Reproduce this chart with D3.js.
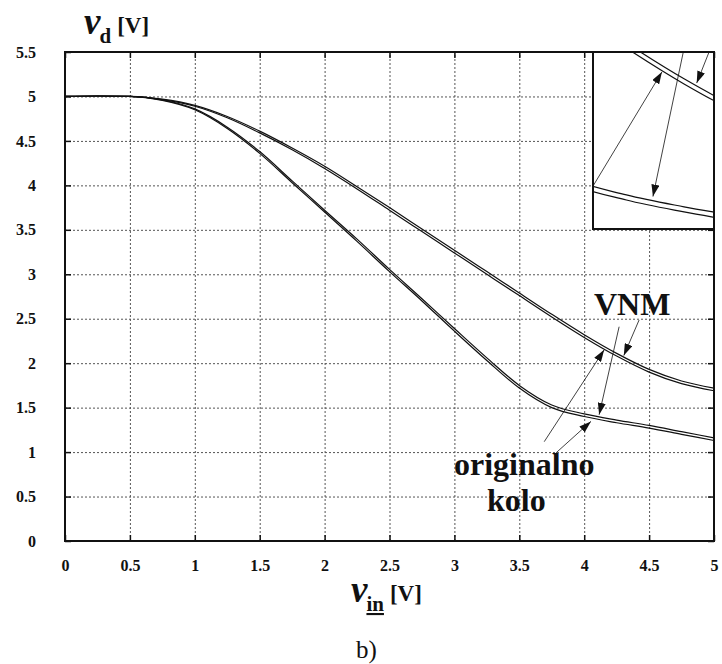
<!DOCTYPE html>
<html>
<head>
<meta charset="utf-8">
<script src="https://cdn.jsdelivr.net/npm/d3@7"></script>
<style>
  body { margin: 0; background: #fff; }
  svg { display: block; }
</style>
</head>
<body>
<svg id="chart" width="722" height="664"></svg>
<script>
const SERIF = '"Liberation Serif", "Times New Roman", serif';

// input voltage samples [V]
const vin = [0, 0.25, 0.5, 0.75, 1.0, 1.25, 1.5, 1.75, 2.0, 2.25, 2.5, 2.75, 3.0, 3.25, 3.5, 3.75, 4.0, 4.25, 4.5, 4.75, 5.0];

// output voltage, upper pair of curves
const origUpper = [5.0, 5.005, 5.0, 4.965, 4.89, 4.76, 4.59, 4.40, 4.19, 3.96, 3.72, 3.48, 3.24, 3.00, 2.76, 2.52, 2.29, 2.08, 1.90, 1.77, 1.69];
const vnmUpper  = [5.0, 5.005, 5.0, 4.97, 4.90, 4.775, 4.61, 4.42, 4.215, 3.985, 3.75, 3.51, 3.27, 3.03, 2.79, 2.55, 2.32, 2.11, 1.93, 1.80, 1.72];

// output voltage, lower pair of curves
const origLower = [5.0, 5.005, 5.0, 4.955, 4.85, 4.64, 4.36, 4.03, 3.70, 3.37, 3.03, 2.70, 2.36, 2.03, 1.72, 1.50, 1.40, 1.33, 1.27, 1.20, 1.13];
const vnmLower  = [5.0, 5.005, 5.0, 4.96, 4.86, 4.655, 4.38, 4.05, 3.72, 3.395, 3.055, 2.725, 2.39, 2.06, 1.75, 1.53, 1.43, 1.36, 1.30, 1.23, 1.16];

const xTicks = [0, 0.5, 1, 1.5, 2, 2.5, 3, 3.5, 4, 4.5, 5];
const yTicks = [0, 0.5, 1, 1.5, 2, 2.5, 3, 3.5, 4, 4.5, 5, 5.5];

// annotation arrows in data units: [x1, y1, x2, y2]
const arrows = [
  [3.692, 1.117, 4.154, 2.15],   // originalno -> upper
  [3.782, 0.99, 4.052, 1.345],   // originalno -> lower
  [4.269, 2.41, 4.115, 1.42],    // VNM -> lower
  [4.423, 2.486, 4.305, 2.085]   // VNM -> upper
];
const insetArrows = [0, 2, 3];

// magnified window shown in the top-right inset
const insetX = [3.855, 4.38];
const insetY = [1.23, 2.267];

const svg = d3.select('#chart');
const x = d3.scaleLinear().domain([0, 5]).range([65, 714]);
const y = d3.scaleLinear().domain([0, 5.5]).range([541, 52]);

const series = [origUpper, vnmUpper, origLower, vnmLower];

svg.append('defs').append('marker')
  .attr('id', 'head')
  .attr('markerUnits', 'userSpaceOnUse')
  .attr('markerWidth', 12).attr('markerHeight', 8)
  .attr('refX', 12).attr('refY', 4)
  .attr('orient', 'auto')
  .append('path').attr('d', 'M0,0 L12,4 L0,8 Z').attr('fill', '#111');

// grid
const gridStyle = g => {
  g.select('.domain').remove();
  g.selectAll('.tick line').attr('stroke', '#555').attr('stroke-dasharray', '2,2').attr('stroke-width', 1);
};
svg.append('g').attr('transform', 'translate(0,541)')
  .call(d3.axisBottom(x).tickValues(xTicks.slice(1, -1)).tickSize(-489).tickFormat(''))
  .call(gridStyle);
svg.append('g').attr('transform', 'translate(65,0)')
  .call(d3.axisLeft(y).tickValues(yTicks.slice(1, -1)).tickSize(-649).tickFormat(''))
  .call(gridStyle);

// axes with inward ticks
const tickStyle = g => {
  g.select('.domain').remove();
  g.attr('font-family', SERIF);
  g.selectAll('.tick line').attr('stroke', '#111').attr('stroke-width', 1.5);
  g.selectAll('text').attr('font-family', SERIF).attr('font-size', 16)
    .attr('font-weight', 'bold').attr('fill', '#111');
};
svg.append('g').attr('transform', 'translate(65,0)')
  .call(d3.axisLeft(y).tickValues(yTicks).tickSize(-6).tickPadding(29).tickFormat(d => d))
  .call(tickStyle);
svg.append('g').attr('transform', 'translate(0,541)')
  .call(d3.axisBottom(x).tickValues(xTicks).tickSize(-6).tickPadding(19).tickFormat(d => d))
  .call(tickStyle);
svg.append('g').attr('transform', 'translate(714,0)')
  .call(d3.axisRight(y).tickValues(yTicks).tickSize(-6).tickFormat(''))
  .call(tickStyle);
svg.append('g').attr('transform', 'translate(0,52)')
  .call(d3.axisTop(x).tickValues(xTicks).tickSize(-6).tickFormat(''))
  .call(tickStyle);

// curves
function drawCurves(g, sx, sy) {
  const line = d3.line()
    .x((d, i) => sx(vin[i]))
    .y(d => sy(d))
    .curve(d3.curveMonotoneX);
  g.selectAll('path.curve')
    .data(series)
    .enter().append('path')
    .attr('class', 'curve')
    .attr('d', line)
    .attr('fill', 'none')
    .attr('stroke', '#111')
    .attr('stroke-width', 1.2);
}
function drawArrows(g, sx, sy, list) {
  g.selectAll('line.arrow')
    .data(list)
    .enter().append('line')
    .attr('class', 'arrow')
    .attr('x1', d => sx(d[0])).attr('y1', d => sy(d[1]))
    .attr('x2', d => sx(d[2])).attr('y2', d => sy(d[3]))
    .attr('stroke', '#111')
    .attr('stroke-width', 0.8)
    .attr('marker-end', 'url(#head)');
}

drawCurves(svg.append('g'), x, y);
drawArrows(svg.append('g'), x, y, arrows);

// frame
svg.append('rect')
  .attr('x', 65).attr('y', 52).attr('width', 649).attr('height', 489)
  .attr('fill', 'none').attr('stroke', '#111').attr('stroke-width', 2);

// inset
const ix = d3.scaleLinear().domain(insetX).range([593, 714]);
const iy = d3.scaleLinear().domain(insetY).range([229, 52]);
svg.select('defs').append('clipPath').attr('id', 'insetClip')
  .append('rect').attr('x', 593).attr('y', 52).attr('width', 121).attr('height', 177);
svg.append('rect')
  .attr('x', 593).attr('y', 52).attr('width', 121).attr('height', 177)
  .attr('fill', '#fff');
const inset = svg.append('g').attr('clip-path', 'url(#insetClip)');
drawCurves(inset, ix, iy);
drawArrows(inset, ix, iy, insetArrows.map(i => arrows[i]));
svg.append('rect')
  .attr('x', 593).attr('y', 52).attr('width', 121).attr('height', 177)
  .attr('fill', 'none').attr('stroke', '#111').attr('stroke-width', 2);

// annotation labels
const note = (tx, ty, s) => svg.append('text')
  .attr('x', tx).attr('y', ty)
  .attr('font-family', SERIF)
  .attr('font-size', 32).attr('font-weight', 'bold').attr('fill', '#111')
  .text(s);
note(594, 315, 'VNM');
note(454, 475, 'originalno');
note(487, 511, 'kolo');

// axis titles
function axisTitle(tx, ty, sub, underline) {
  const t = svg.append('text').attr('x', tx).attr('y', ty)
    .attr('font-family', SERIF).attr('fill', '#111').attr('font-weight', 'bold');
  t.append('tspan').attr('font-size', 37).attr('font-style', 'italic').text('v');
  t.append('tspan').attr('font-size', 21).attr('dy', 9).attr('dx', -1)
    .attr('text-decoration', underline ? 'underline' : null).text(sub);
  t.append('tspan').attr('font-size', 23).attr('dy', -10).attr('dx', 6).text('[V]');
}
axisTitle(84, 34, 'd', false);
axisTitle(351, 602, 'in', true);

svg.append('text').attr('x', 356).attr('y', 658)
  .attr('font-family', SERIF)
  .attr('font-size', 25).attr('fill', '#111').text('b)');
</script>
</body>
</html>
